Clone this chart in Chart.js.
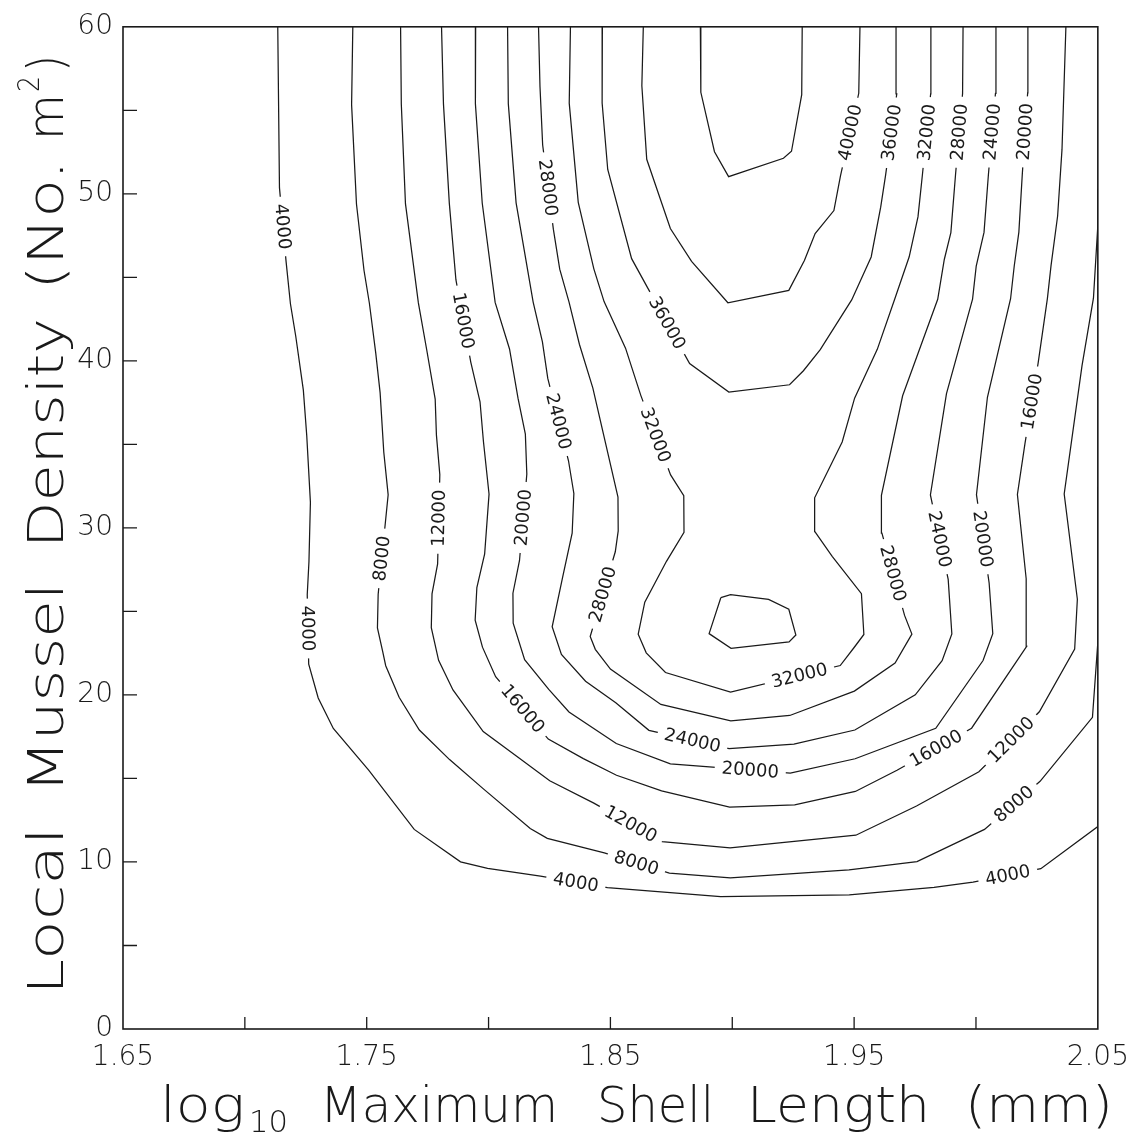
<!DOCTYPE html>
<html><head><meta charset="utf-8">
<script src="https://cdn.jsdelivr.net/npm/chart.js@4.4.0/dist/chart.umd.min.js"></script>
<style>html,body{margin:0;padding:0;background:#fff;}canvas{display:block;}</style>
</head><body>
<canvas id="c" width="1141" height="1139"></canvas>
<script>
// ---- axis ticks ----
const xTickLabels = [1.65, 1.75, 1.85, 1.95, 2.05];
const xTickMarks  = [1.70, 1.75, 1.80, 1.85, 1.90, 1.95, 2.00];
const yTickLabels = [0, 10, 20, 30, 40, 50, 60];
const yTickMarks  = [5, 10, 15, 20, 25, 30, 35, 40, 45, 50, 55];

// ---- contour lines: [log10 length, density] ----
const c4000 = [[1.7135,60],[1.7142,50.37],[1.7169,45.97],[1.7187,43.42],[1.7209,41.46],[1.7240,38.25],[1.7254,35.52],[1.7269,31.53],[1.7263,27.97],[1.7256,26.0],[1.7262,21.84],[1.7301,19.82],[1.7363,17.99],[1.7508,15.50],[1.7695,11.95],[1.7885,10.01],[1.7996,9.61],[1.8213,9.15],[1.8488,8.47],[1.8952,7.92],[1.9480,8.03],[1.9828,8.48],[1.9988,8.80],[2.0266,9.60],[2.05,12.12]];
const c8000 = [[1.7443,60],[1.7438,55.34],[1.7458,49.39],[1.7489,45.41],[1.7511,43.45],[1.7537,40.48],[1.7555,38.10],[1.7570,34.54],[1.7588,31.98],[1.7577,30.38],[1.7547,26.03],[1.7544,24.01],[1.7565,22.64],[1.7578,21.75],[1.7633,19.86],[1.7716,17.90],[1.7840,16.13],[1.7980,14.36],[1.8171,12.00],[1.8241,11.41],[1.8475,10.55],[1.8742,9.33],[1.8992,9.05],[1.9479,9.52],[1.9758,10.02],[2.0035,11.95],[2.0263,14.83],[2.0478,18.66],[2.0499,22.94],[2.05,32.46]];
const c12000 = [[1.7639,60],[1.7642,55.36],[1.7659,49.41],[1.7712,43.47],[1.7746,40.68],[1.7781,37.71],[1.7786,35.57],[1.7800,33.19],[1.7791,27.84],[1.7768,26.05],[1.7765,24.03],[1.7795,22.07],[1.7854,20.30],[1.7978,17.81],[1.8114,16.34],[1.8251,14.86],[1.8432,13.52],[1.8712,11.22],[1.8991,10.84],[1.9507,11.60],[1.9756,13.35],[2.0012,15.40],[2.0260,18.99],[2.0405,22.75],[2.0416,25.73],[2.0362,32.03],[2.0435,39.70],[2.0482,43.75],[2.05,48.1],[2.05,50.3]];
const c16000 = [[1.7807,60],[1.7815,55.37],[1.7839,49.43],[1.7866,44.86],[1.7927,39.93],[1.7965,37.55],[1.7979,35.17],[1.8002,32.02],[1.7984,28.45],[1.7952,26.43],[1.7945,24.47],[1.7975,22.86],[1.8029,21.09],[1.8245,17.36],[1.8389,16.19],[1.8525,15.19],[1.8710,14.26],[1.8989,13.28],[1.9256,13.42],[1.9505,14.22],[1.9676,15.49],[1.9982,18.01],[2.0208,22.91],[2.0206,26.96],[2.0170,32.0],[2.0201,35.04],[2.0255,39.87],[2.0293,43.73],[2.0308,45.7],[2.0335,48.67],[2.0353,52.66],[2.0369,60]];
const c20000 = [[1.7947,60],[1.7946,55.39],[1.7974,49.45],[1.8027,43.5],[1.8086,40.71],[1.8121,37.75],[1.8151,35.61],[1.8157,33.23],[1.8127,28.05],[1.8100,26.09],[1.8101,24.3],[1.8148,22.11],[1.8247,20.33],[1.8330,18.98],[1.8524,17.09],[1.8746,15.87],[1.8906,15.7],[1.9238,15.32],[1.9504,16.18],[1.9835,18.0],[2.0029,22.06],[2.0069,23.67],[2.0054,26.7],[2.0002,31.99],[2.0047,37.82],[2.0142,43.72],[2.0157,45.68],[2.0176,47.71],[2.0190,51.16],[2.0212,56.04],[2.0213,60]];
const c24000 = [[1.8078,60],[1.8081,55.4],[1.8113,49.46],[1.8183,43.52],[1.8221,41.14],[1.8243,38.95],[1.8328,34.02],[1.8350,32.06],[1.8343,29.68],[1.8304,27.06],[1.8261,24.08],[1.8299,22.42],[1.8398,20.82],[1.8522,19.53],[1.8658,17.88],[1.8987,16.78],[1.9253,17.05],[1.9503,17.9],[1.9751,20.01],[1.9861,22.05],[1.9901,23.65],[1.9886,26.92],[1.9813,31.97],[1.9879,38.04],[1.9986,43.7],[2.0001,45.67],[2.0033,47.69],[2.0051,51.14],[2.0080,56.02],[2.0082,60]];
const c28000 = [[1.8205,60],[1.8211,56.43],[1.8222,52.92],[1.8266,47.87],[1.8292,45.49],[1.8330,43.53],[1.8373,40.98],[1.8428,38.37],[1.8471,35.64],[1.8531,31.84],[1.8532,29.82],[1.8520,28.57],[1.8417,23.5],[1.8438,22.73],[1.8500,21.55],[1.8707,19.43],[1.8994,18.45],[1.9236,18.77],[1.9501,20.23],[1.9668,21.91],[1.9737,23.64],[1.9707,24.76],[1.9614,29.69],[1.9612,31.95],[1.9699,37.91],[1.9843,43.69],[1.9870,46.07],[1.9897,47.68],[1.9916,51.13],[1.9945,56.01],[1.9947,60]];
const c32000 = [[1.8336,60],[1.8331,55.43],[1.8368,49.49],[1.8432,45.51],[1.8474,43.55],[1.8562,40.76],[1.8625,37.92],[1.8747,33.17],[1.8801,31.93],[1.8802,29.73],[1.8730,28.0],[1.8641,25.55],[1.8614,23.64],[1.8647,22.52],[1.8726,21.34],[1.8993,20.17],[1.9443,21.76],[1.9500,22.84],[1.9540,23.62],[1.9530,26.06],[1.9410,28.3],[1.9339,29.78],[1.9338,31.8],[1.9451,35.14],[1.9502,37.77],[1.9595,40.69],[1.9666,43.67],[1.9726,46.23],[1.9762,48.62],[1.9780,51.11],[1.9814,55.99],[1.9815,60]];
const c36000 = [[1.8467,60],[1.8466,55.44],[1.8489,51.46],[1.8587,46.12],[1.8654,44.34],[1.8825,39.84],[1.8986,38.13],[1.9235,38.57],[1.9292,39.41],[1.9361,40.67],[1.9490,43.65],[1.9570,46.22],[1.9609,49.2],[1.9629,51.1],[1.9675,55.98],[1.9672,60]];
const c36000loop = [[1.8953,25.82],[1.8993,26.0],[1.9149,25.72],[1.9232,25.13],[1.9261,23.59],[1.9233,23.17],[1.8995,22.79],[1.8905,23.67],[1.8953,25.82]];
const c40000 = [[1.8635,60],[1.8629,56.47],[1.8649,52.07],[1.8746,47.92],[1.8833,45.96],[1.8982,43.48],[1.9232,44.22],[1.9296,46.01],[1.9340,47.62],[1.9417,49.0],[1.9444,51.08],[1.9519,56.02],[1.9524,60]];
const c44000 = [[1.8869,60],[1.8871,56.08],[1.8927,52.52],[1.8985,51.03],[1.9210,52.13],[1.9243,52.55],[1.9285,55.94],[1.9287,60]];

// ---- contour labels: [level, approx x, approx y] (snapped onto the line) ----
const contourLabels = [
  [40000,1.9492,53.64],[36000,1.9652,53.66],[32000,1.9799,53.67],[28000,1.9930,53.69],[24000,2.0070,53.7],[20000,2.0201,53.71],
  [4000,1.7159,48.05],[28000,1.8240,50.36],[16000,1.7901,42.42],
  [36000,1.8733,42.27],[32000,1.8680,35.54],[24000,1.8294,36.4],[20000,1.8150,30.61],[12000,1.7794,30.58],[8000,1.7562,28.17],[4000,1.7261,23.98],[28000,1.8469,26.01],
  [28000,1.9656,27.26],[24000,1.9844,29.3],[20000,2.0020,29.32],[16000,2.0236,37.54],
  [16000,1.8137,19.13],[12000,1.8584,12.28],[8000,1.8602,9.73],[4000,1.8357,8.69],[24000,1.8839,17.42],[20000,1.9074,15.54],[32000,1.9275,21.21],[16000,1.9840,16.69],[12000,2.0147,17.26],[8000,2.0153,13.51],[4000,2.0131,9.17]
];

const contours = [
  {level:4000, data:c4000},{level:8000, data:c8000},{level:12000, data:c12000},{level:16000, data:c16000},
  {level:20000, data:c20000},{level:24000, data:c24000},{level:28000, data:c28000},{level:32000, data:c32000},
  {level:36000, data:c36000},{level:36000, data:c36000loop},{level:40000, data:c40000},{level:44000, data:c44000}
];

const FONT = '"DejaVu Sans", Roboto, sans-serif';
const INK = '#1a1a1a';

const framePlugin = {
  id: 'frame',
  afterDatasetsDraw(chart) {
    const {ctx, chartArea:a, scales:{x, y}} = chart;
    ctx.save();
    ctx.strokeStyle = INK; ctx.lineWidth = 1.6;
    ctx.strokeRect(a.left, a.top, a.right - a.left, a.bottom - a.top);
    ctx.lineWidth = 1.3;
    ctx.beginPath();
    xTickMarks.forEach(v => { const px = x.getPixelForValue(v); ctx.moveTo(px, a.bottom); ctx.lineTo(px, a.bottom - 12); });
    yTickMarks.forEach(v => { const py = y.getPixelForValue(v); ctx.moveTo(a.left, py); ctx.lineTo(a.left + 14, py); });
    ctx.stroke();
    ctx.restore();
  }
};

const labelPlugin = {
  id: 'contourLabels',
  afterDatasetsDraw(chart) {
    const {ctx, chartArea:a, scales:{x, y}} = chart;
    ctx.save();
    ctx.beginPath(); ctx.rect(a.left + 1, a.top + 1, a.right - a.left - 2, a.bottom - a.top - 2); ctx.clip();
    ctx.font = '400 18px ' + FONT;
    ctx.textAlign = 'center'; ctx.textBaseline = 'middle';
    contourLabels.forEach(([lev, lx, ly]) => {
      const px = x.getPixelForValue(lx), py = y.getPixelForValue(ly);
      let best = null;
      contours.filter(c => c.level === lev).forEach(c => {
        const pts = c.data.map(p => [x.getPixelForValue(p[0]), y.getPixelForValue(p[1])]);
        for (let i = 0; i < pts.length - 1; i++) {
          const [ax, ay] = pts[i], [bx, by] = pts[i + 1];
          const dx = bx - ax, dy = by - ay, l2 = dx * dx + dy * dy || 1;
          let t = ((px - ax) * dx + (py - ay) * dy) / l2; t = Math.max(0, Math.min(1, t));
          const qx = ax + t * dx, qy = ay + t * dy, d = (qx - px) ** 2 + (qy - py) ** 2;
          if (!best || d < best.d) best = {d, qx, qy, ang: Math.atan2(dy, dx)};
        }
      });
      let ang = best.ang;
      if (ang > Math.PI / 2) ang -= Math.PI;
      if (ang <= -Math.PI / 2) ang += Math.PI;
      const txt = String(lev), w = ctx.measureText(txt).width;
      ctx.save();
      ctx.translate(best.qx, best.qy); ctx.rotate(ang);
      ctx.fillStyle = '#fff'; ctx.fillRect(-w / 2 - 7, -9, w + 14, 18);
      ctx.fillStyle = INK; ctx.fillText(txt, 0, 1);
      ctx.restore();
    });
    ctx.restore();
  }
};

function drawWord(ctx, text, x0, x1, base, size) {
  ctx.font = '200 ' + size + 'px ' + FONT;
  const w = ctx.measureText(text).width;
  ctx.save();
  ctx.translate(x0, base);
  ctx.scale((x1 - x0) / w, 1);
  ctx.fillText(text, 0, 0);
  ctx.restore();
}

const titlePlugin = {
  id: 'titles',
  afterDraw(chart) {
    const ctx = chart.ctx;
    ctx.save();
    ctx.fillStyle = INK; ctx.textAlign = 'left'; ctx.textBaseline = 'alphabetic';
    // x axis title
    drawWord(ctx, 'log', 160, 245, 1122, 50);
    drawWord(ctx, '10', 249, 288, 1132, 30);
    drawWord(ctx, 'Maximum', 320, 558, 1122, 50);
    drawWord(ctx, 'Shell', 597, 714, 1122, 50);
    drawWord(ctx, 'Length', 747, 930, 1122, 50);
    drawWord(ctx, '(mm)', 965, 1113, 1122, 50);
    // y axis title (rotated)
    ctx.translate(63, 1029);
    ctx.rotate(-Math.PI / 2);
    drawWord(ctx, 'Local', 34, 202, 0, 50);
    drawWord(ctx, 'Mussel', 236, 446, 0, 50);
    drawWord(ctx, 'Density', 481, 711, 0, 50);
    drawWord(ctx, '(No.', 739, 869, 0, 50);
    drawWord(ctx, 'm', 889, 935, 0, 50);
    drawWord(ctx, '2', 937, 953, -24, 30);
    drawWord(ctx, ')', 957, 974, 0, 50);
    ctx.restore();
  }
};

new Chart(document.getElementById('c'), {
  type: 'scatter',
  data: {
    datasets: contours.map(c => ({
      label: String(c.level),
      data: c.data.map(([px, py]) => ({x: px, y: py})),
      showLine: true, borderColor: INK, borderWidth: 1.25,
      pointRadius: 0, pointHoverRadius: 0, fill: false, tension: 0
    }))
  },
  options: {
    responsive: false, animation: false, events: [],
    layout: {padding: {left: 0, top: 20, right: 41, bottom: 0}},
    plugins: {legend: {display: false}, tooltip: {enabled: false}},
    scales: {
      x: {
        type: 'linear', min: 1.65, max: 2.05,
        afterBuildTicks(s) { s.ticks = xTickLabels.map(v => ({value: v})); },
        afterFit(s) { s.height = 110; },
        grid: {display: false, drawTicks: false}, border: {display: false},
        ticks: {callback: v => Number(v).toFixed(2), font: {family: FONT, size: 28, weight: '200'}, color: INK, padding: 12, maxRotation: 0, autoSkip: false}
      },
      y: {
        type: 'linear', min: 0, max: 60,
        afterBuildTicks(s) { s.ticks = yTickLabels.map(v => ({value: v})); },
        afterFit(s) { s.width = 123; },
        grid: {display: false, drawTicks: false}, border: {display: false},
        ticks: {callback: v => String(v), font: {family: FONT, size: 28, weight: '200'}, color: INK, padding: 10, autoSkip: false}
      }
    }
  },
  plugins: [framePlugin, labelPlugin, titlePlugin]
});
</script>
</body></html>
